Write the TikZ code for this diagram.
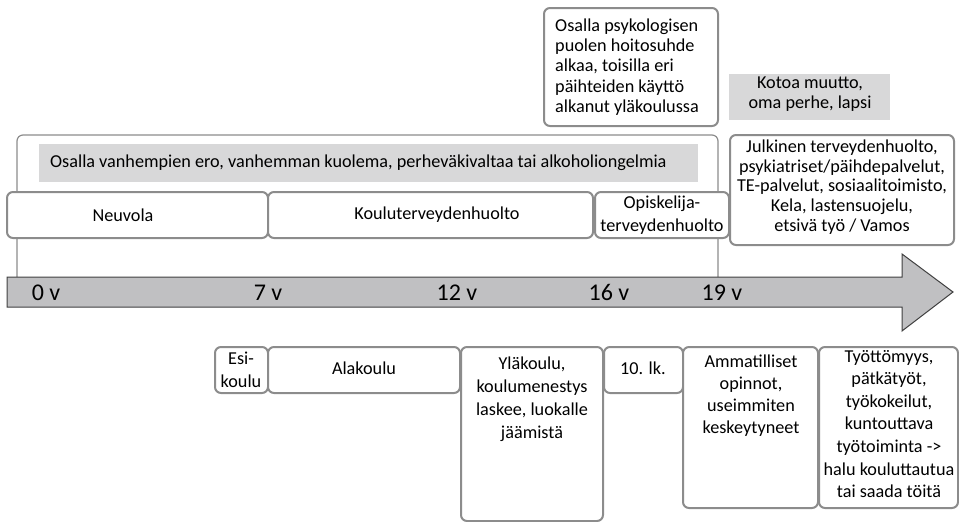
\documentclass[tikz,border=0pt]{standalone}
\usepackage{fontspec}
\setmainfont{Carlito}
\definecolor{boxgray}{RGB}{140,140,140}
\definecolor{bandgray}{RGB}{216,216,217}
\definecolor{arrowgray}{RGB}{192,192,194}
\definecolor{edgegray}{RGB}{64,64,64}
\tikzset{
  box/.style={draw=boxgray, line width=2pt, rounded corners=6pt, fill=white},
  band/.style={fill=bandgray},
  txt/.style={align=center, inner sep=0pt, font=\fontsize{18.2}{21.5}\selectfont},
  age/.style={inner sep=0pt, anchor=base, font=\fontsize{24}{27}\selectfont}
}
\begin{document}
\begin{tikzpicture}[x=1pt, y=-1pt]
    \useasboundingbox (0,0) rectangle (959,522);

    % outer frame and the timeline
    \draw [boxgray, line width=1.2pt, rounded corners=6pt] (17,295) -- (17,135) -- (718,135) -- (718,295);
    \fill [band] (39,144) rectangle (698,182);
    \node [txt, anchor=west] (family) at (50,163)
      {Osalla vanhempien ero, vanhemman kuolema, perheväkivaltaa tai alkoholiongelmia};

    \draw [fill=arrowgray, draw=edgegray, line width=1pt]
      (7,277) -- (902,277) -- (902,254) -- (953,292) -- (902,331) -- (902,307) -- (7,307) -- cycle;
    \node [age] (a0) at (46,300) {0 v};
    \node [age] (a7) at (268,300) {7 v};
    \node [age] (a12) at (457,300) {12 v};
    \node [age] (a16) at (609,300) {16 v};
    \node [age] (a19) at (722,300) {19 v};

    % health care
    \draw [box] (7,192) rectangle (268,238);
    \node [txt] (neuvola) at (123,215) {Neuvola};
    \draw [box] (268,192) rectangle (593,238);
    \node [txt] (koulu) at (437,215) {Kouluterveydenhuolto};
    \draw [box] (595,192) rectangle (729,238);
    \node [txt, font=\fontsize{18.2}{23}\selectfont] (opisk) at (662,215) {Opiskelija-\\terveydenhuolto};

    \draw [box] (544,8) rectangle (718,126);
    \node [txt, align=left, anchor=west, font=\fontsize{18.2}{20.2}\selectfont] (psyk) at (555,67)
      {Osalla psykologisen\\puolen hoitosuhde\\alkaa, toisilla eri\\päihteiden käyttö\\alkanut yläkoulussa};

    \fill [band] (729,74) rectangle (890,120);
    \node [txt, font=\fontsize{18.2}{20}\selectfont] (kotoa) at (810,94) {Kotoa muutto,\\oma perhe, lapsi};

    \draw [box] (730,135) rectangle (954,245);
    \node [txt, font=\fontsize{18.2}{19.6}\selectfont] (julk) at (842,187)
      {Julkinen terveydenhuolto,\\psykiatriset/päihdepalvelut,\\TE-palvelut, sosiaalitoimisto,\\Kela, lastensuojelu,\\etsivä työ / Vamos};

    % school and work
    \draw [box] (215,347) rectangle (268,393);
    \node [txt, font=\fontsize{18.2}{23}\selectfont] (esi) at (241,370) {Esi-\\koulu};
    \draw [box] (268,347) rectangle (460,393);
    \node [txt] (ala) at (364,368) {Alakoulu};
    \draw [box] (461,347) rectangle (603,521);
    \node [txt, anchor=north, font=\fontsize{18.2}{23}\selectfont] (yla) at (532,357)
      {Yläkoulu,\\koulumenestys\\laskee, luokalle\\jäämistä};
    \draw [box] (604,347) rectangle (683,393);
    \node [txt] (kymppi) at (643,368) {10. lk.};
    \draw [box] (683,347) rectangle (818,508);
    \node [txt, anchor=north, font=\fontsize{18.2}{22}\selectfont] (amm) at (751,355)
      {Ammatilliset\\opinnot,\\useimmiten\\keskeytyneet};
    \draw [box] (819,347) rectangle (958,508);
    \node [txt, font=\fontsize{18.2}{22.6}\selectfont] (tyo) at (889,424)
      {Työttömyys,\\pätkätyöt,\\työkokeilut,\\kuntouttava\\työtoiminta ->\\halu kouluttautua\\tai saada töitä};
\end{tikzpicture}
\end{document}
